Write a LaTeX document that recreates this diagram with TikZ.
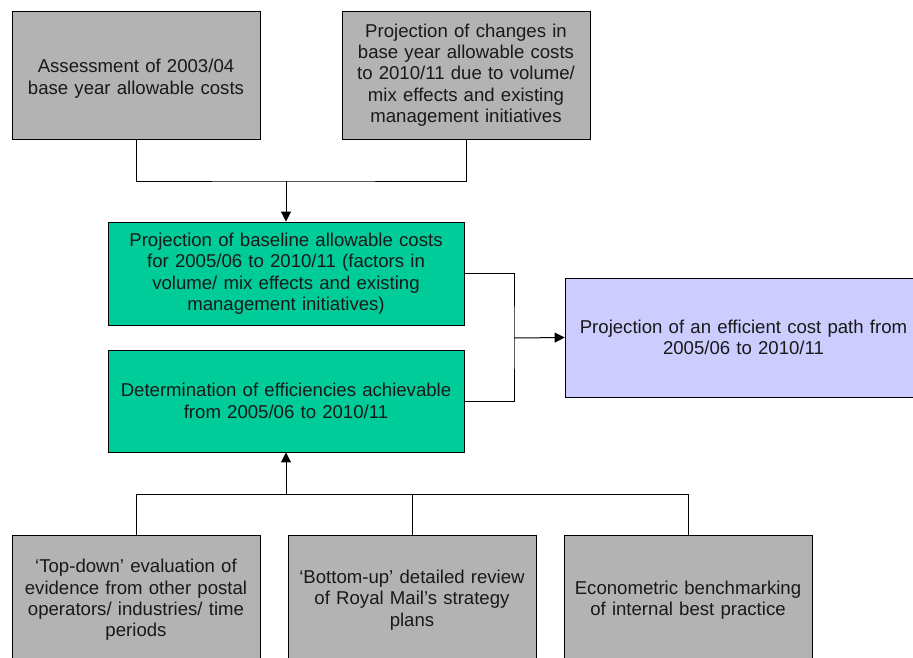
\documentclass[tikz,border=0pt]{standalone}
\usepackage{fontspec}
\setmainfont{Liberation Sans}
\usetikzlibrary{arrows.meta}
\definecolor{boxgray}{HTML}{B3B3B3}
\definecolor{boxgreen}{HTML}{00CC99}
\definecolor{boxlilac}{HTML}{CCCCFF}
\tikzset{
  stagebox/.style={draw=black, line width=0.9pt, rectangle, inner sep=0pt, align=center,
    font=\fontsize{18.6}{21.4}\selectfont, text=black!90},
  inputbox/.style={stagebox, fill=boxgray, minimum width=248pt, minimum height=128pt, text width=236pt},
  corebox/.style={stagebox, fill=boxgreen, minimum width=356pt, minimum height=103pt, text width=344pt},
  resultbox/.style={stagebox, fill=boxlilac, minimum width=357pt, minimum height=119pt, text width=345pt},
  link/.style={draw=black, line width=1pt},
  flow/.style={link, -{Triangle[length=10pt,width=10pt]}}
}
\begin{document}
\begin{tikzpicture}[x=1pt, y=-1pt]
  \useasboundingbox (0,0) rectangle (913,657);
  \clip (0,0) rectangle (913,657);
  \fill[white] (0,0) rectangle (913,657);

  % inputs to the baseline
  \node[inputbox] (base) at (136,75) {\rule{0pt}{21pt}Assessment of 2003/04\\base year allowable costs};
  \node[inputbox] (change) at (466,75) {Projection of changes in\\base year allowable costs\\to 2010/11 due to volume/\\mix effects and existing\\management initiatives};

  % central stages
  \node[corebox, minimum height=103pt] (baseline) at (286,273.5) {Projection of baseline allowable costs\\for 2005/06 to 2010/11 (factors in\\volume/ mix effects and existing\\management initiatives)};
  \node[corebox, minimum height=102pt] (effic) at (286,401) {Determination of efficiencies achievable\\from 2005/06 to 2010/11};

  % outcome
  \node[resultbox] (path) at (743.5,337.5) {Projection of an efficient cost path from\\2005/06 to 2010/11};

  % evidence sources
  \node[inputbox, minimum height=130pt] (topdown) at (136,600) {‘Top-down’ evaluation of\\evidence from other postal\\operators/ industries/ time\\periods};
  \node[inputbox, minimum height=130pt] (bottomup) at (412,600) {‘Bottom-up’ detailed review\\of Royal Mail’s strategy\\plans};
  \node[inputbox, minimum height=130pt] (econ) at (688,600) {Econometric benchmarking\\of internal best practice};

  % junction points
  \coordinate (jtop) at (286,181);
  \coordinate (jright) at (514,338);
  \coordinate (jbottom) at (286,494);

  % connectors
  \draw[link] (base.south) |- (jtop) -| (change.south);
  \draw[flow] (jtop) -- (baseline.north);

  \draw[link] (baseline.east) -| (jright) |- (effic.east);
  \draw[flow] (jright) -- (path.west);

  \draw[link] (topdown.north) |- (jbottom) -| (econ.north);
  \draw[link] (bottomup.north) |- (jbottom);
  \draw[flow] (jbottom) -- (effic.south);
\end{tikzpicture}
\end{document}
